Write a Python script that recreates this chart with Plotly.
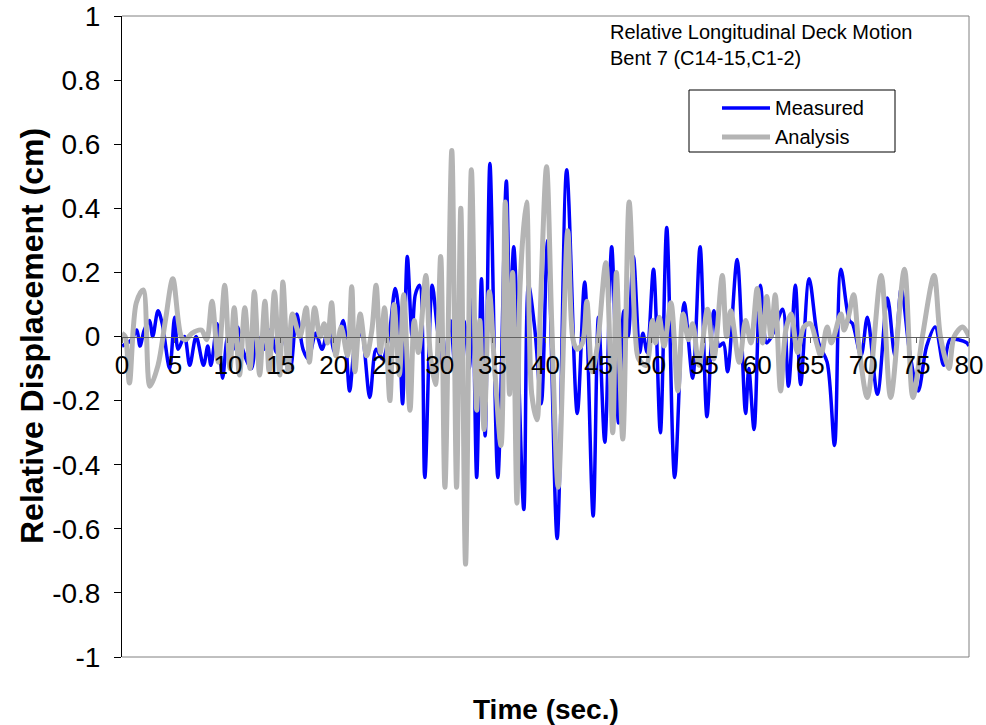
import plotly.graph_objects as go

# ---------------- data ----------------
t_measured = [0, 0.9, 1.4, 1.7, 2.1, 2.6, 2.9, 3.4, 3.8, 4.5, 4.97, 5.3, 5.9, 6.4, 7.0, 7.7, 8.1, 8.4,
              9.0, 9.5, 10.0, 10.5, 10.9, 11.4, 12.2, 12.8, 13.4, 14.0, 14.6, 15.2, 15.9, 16.5, 17.1,
              17.6, 18.3, 18.9, 19.5, 20.1, 20.9, 21.5, 22.0, 22.6, 23.4, 24.0, 24.6, 25.2, 25.8, 26.1,
              26.5, 26.95, 27.4, 27.7, 28.1, 28.6, 29.3, 29.8, 30.4, 31.0, 31.6, 32.3, 32.8, 33.1, 33.5,
              33.95, 34.3, 34.75, 35.5, 36.3, 36.65, 37.0, 37.95, 38.4, 39.0, 39.6, 40.2, 41.1, 42.0,
              43.0, 43.7, 44.5, 45.0, 45.6, 46.25, 46.9, 47.4, 47.8, 48.3, 48.9, 49.2, 49.6, 50.2, 50.85,
              51.45, 52.2, 53.1, 53.9, 54.6, 55.25, 55.9, 56.4, 56.8, 57.2, 58.1, 58.9, 59.2, 59.7, 60.3,
              60.9, 61.5, 62.4, 62.95, 63.6, 64.1, 64.9, 65.8, 66.6, 67.3, 67.9, 68.7, 69.0, 69.8, 70.4,
              71.35, 72.3, 73.0, 73.6, 74.4, 75.2, 76.0, 76.8, 77.6, 78.2, 79.0, 79.8, 80]
v_measured = [-0.03, -0.01, 0.02, -0.03, 0.02, 0.05, 0.0, 0.08, 0.04, -0.10, 0.06, -0.04, 0.0, -0.09,
              0.0, -0.09, -0.03, -0.09, 0.04, -0.13, 0.0, -0.04, 0.03, -0.04, -0.10, 0.0, -0.04, 0.02,
              -0.05, 0.0, -0.10, 0.07, -0.04, -0.07, 0.01, -0.04, 0.03, -0.05, 0.05, -0.17, -0.03, 0.01,
              -0.19, -0.04, -0.07, 0.0, 0.15, 0.09, -0.21, 0.25, 0.0, 0.13, 0.16, -0.44, 0.16, 0.02,
              -0.10, 0.05, -0.15, 0.05, -0.10, 0.16, -0.44, 0.18, -0.31, 0.54, -0.44, 0.485, 0.05, 0.28,
              -0.54, 0.16, 0.02, -0.21, 0.30, -0.63, 0.52, -0.24, 0.17, -0.56, 0.06, -0.33, 0.28, -0.27,
              0.08, 0.0, 0.25, -0.05, 0.01, -0.05, 0.21, -0.30, 0.34, -0.44, 0.105, -0.13, 0.28, -0.25,
              0.08, -0.03, -0.02, -0.11, 0.24, -0.24, -0.10, -0.29, 0.16, -0.02, 0.01, 0.085, -0.155,
              0.16, -0.15, 0.18, -0.02, -0.08, -0.34, 0.21, 0.05, 0.04, -0.06, 0.06, -0.18, 0.12, -0.06,
              0.15, -0.05, -0.17, -0.03, 0.03, -0.09, -0.01, -0.01, -0.02, -0.03]

t_analysis = [0, 0.3, 0.7, 1.35, 2.0, 2.64, 3.4, 4.1, 4.8, 5.6, 6.0, 6.6, 7.5, 8.0, 8.5, 9.1, 9.7, 10.2,
              10.6, 11.1, 11.6, 12.1, 12.5, 13.0, 13.5, 13.9, 14.4, 14.9, 15.2, 15.7, 16.1, 16.8, 17.4,
              17.7, 18.2, 18.7, 19.1, 19.4, 19.8, 20.2, 20.7, 21.3, 21.7, 22.0, 22.5, 23.1, 23.6, 24.0,
              24.4, 24.8, 25.3, 25.7, 26.2, 26.6, 27.2, 27.6, 28.0, 28.7, 29.1, 29.6, 30.1, 30.5, 31.15,
              31.6, 32.0, 32.45, 33.0, 33.5, 33.8, 34.2, 34.7, 35.2, 35.8, 36.2, 36.6, 36.9, 37.3, 37.6,
              38.2, 38.7, 39.2, 39.5, 40.1, 40.6, 41.2, 42.1, 42.6, 43.0, 43.5, 43.9, 44.4, 44.9, 45.7,
              46.35, 46.7, 47.3, 47.9, 48.5, 48.8, 49.5, 50.1, 50.4, 50.75, 51.2, 51.85, 52.5, 53.0, 53.5,
              53.9, 54.5, 55.3, 55.9, 56.7, 57.1, 57.5, 58.3, 58.9, 59.4, 60.0, 60.5, 60.9, 61.3, 61.7,
              62.2, 62.7, 63.2, 63.8, 64.4, 65.0, 65.6, 66.0, 66.6, 67.0, 67.9, 68.2, 68.6, 69.1, 69.6,
              70.4, 71.7, 72.6, 73.9, 74.7, 75.6, 76.7, 77.3, 78.1, 78.6, 79.4, 80]
v_analysis = [0.01, 0.0, -0.145, 0.105, 0.145, -0.155, -0.09, 0.05, 0.18, 0.0, -0.01, 0.01, 0.02, -0.01,
              0.11, -0.08, 0.16, -0.10, 0.09, -0.12, 0.09, -0.10, 0.14, -0.12, 0.11, -0.11, 0.14, -0.12,
              0.17, -0.11, 0.07, 0.0, 0.09, -0.08, 0.09, 0.0, 0.04, -0.02, 0.105, -0.06, 0.03, -0.06,
              0.155, -0.11, 0.07, -0.06, 0.02, 0.16, -0.05, 0.09, -0.20, 0.10, -0.12, 0.13, -0.23, 0.05,
              -0.05, 0.19, -0.05, -0.15, 0.25, -0.47, 0.58, -0.47, 0.40, -0.71, 0.52, -0.23, 0.05, -0.29,
              0.14, -0.10, -0.34, 0.42, -0.18, 0.20, -0.52, 0.16, 0.42, -0.18, -0.26, 0.07, 0.53, 0.03,
              -0.47, 0.33, -0.01, -0.04, -0.02, 0.11, -0.11, -0.03, 0.23, -0.30, 0.20, -0.32, 0.42, 0.0,
              -0.07, -0.09, 0.05, -0.02, 0.06, -0.03, 0.105, -0.17, 0.07, -0.01, 0.04, -0.09, 0.085,
              -0.07, 0.19, 0.0, 0.08, -0.08, 0.05, -0.02, 0.15, -0.02, 0.125, 0.0, 0.13, -0.17, 0.02,
              0.07, -0.05, 0.03, 0.04, -0.02, -0.06, 0.03, -0.02, 0.07, 0.02, 0.06, 0.13, -0.03, -0.19,
              0.19, -0.19, 0.21, -0.19, 0.0, 0.19, 0.0, -0.10, 0.0, 0.03, 0.0]

x_ticks = list(range(0, 81, 5))
y_ticks = [1, 0.8, 0.6, 0.4, 0.2, 0, -0.2, -0.4, -0.6, -0.8, -1]
y_tick_text = ["1", "0.8", "0.6", "0.4", "0.2", "0", "-0.2", "-0.4", "-0.6", "-0.8", "-1"]

# ---------------- layout geometry (pixels) ----------------
W, H = 986, 725
L, R, T, B = 122, 17, 16, 68
PW, PH = W - L - R, H - T - B


def px(x):
    return (x - L) / PW


def py(y):
    return 1 - (y - T) / PH


FONT = "Arial, 'Liberation Sans', sans-serif"
BLUE_W, GRAY_W = 3.5, 5

fig = go.Figure()
fig.add_trace(go.Scatter(x=t_measured, y=v_measured, mode="lines", name="Measured",
                         line=dict(color="#0000FF", width=BLUE_W, shape="spline", smoothing=0.9),
                         showlegend=False))
fig.add_trace(go.Scatter(x=t_analysis, y=v_analysis, mode="lines", name="Analysis",
                         line=dict(color="#B4B4B4", width=GRAY_W, shape="spline", smoothing=0.9),
                         showlegend=False))

shapes = [
    # plot frame (top, right, bottom) in gray
    dict(type="line", xref="paper", yref="paper", x0=0, x1=1, y0=1, y1=1,
         line=dict(color="#808080", width=1)),
    dict(type="line", xref="paper", yref="paper", x0=1, x1=1, y0=0, y1=1,
         line=dict(color="#808080", width=1)),
    dict(type="line", xref="paper", yref="paper", x0=0, x1=1, y0=0, y1=0,
         line=dict(color="#808080", width=1)),
    # legend box
    dict(type="rect", xref="paper", yref="paper", x0=px(689), x1=px(895), y0=py(152), y1=py(90),
         line=dict(color="black", width=1), fillcolor="white"),
    dict(type="line", xref="paper", yref="paper", x0=px(722), x1=px(770), y0=py(108), y1=py(108),
         line=dict(color="#0000FF", width=BLUE_W)),
    dict(type="line", xref="paper", yref="paper", x0=px(722), x1=px(770), y0=py(137), y1=py(137),
         line=dict(color="#B4B4B4", width=GRAY_W)),
]

annotations = [
    dict(text="Relative Longitudinal Deck Motion<br>Bent 7 (C14-15,C1-2)", xref="paper", yref="paper",
         x=px(608), y=py(45), xanchor="left", yanchor="middle", align="left", showarrow=False,
         font=dict(family=FONT, size=20, color="black")),
    dict(text="Measured", xref="paper", yref="paper", x=px(773), y=py(108), xanchor="left",
         yanchor="middle", showarrow=False, font=dict(family=FONT, size=20, color="black")),
    dict(text="Analysis", xref="paper", yref="paper", x=px(773), y=py(137), xanchor="left",
         yanchor="middle", showarrow=False, font=dict(family=FONT, size=20, color="black")),
    dict(text="<b>Time (sec.)</b>", xref="paper", yref="paper", x=px(546), y=py(709),
         xanchor="center", yanchor="middle", showarrow=False,
         font=dict(family=FONT, size=28, color="black")),
    dict(text="<b>Relative Displacement (cm)</b>", xref="paper", yref="paper", x=px(32), y=py(336),
         xanchor="center", yanchor="middle", textangle=-90, showarrow=False,
         font=dict(family=FONT, size=32, color="black")),
]

fig.update_layout(
    width=W, height=H,
    margin=dict(l=L, r=R, t=T, b=B, pad=0),
    paper_bgcolor="white", plot_bgcolor="white",
    font=dict(family=FONT, color="black"),
    shapes=shapes, annotations=annotations,
    xaxis=dict(range=[0, 80], tickvals=x_ticks, ticktext=[str(v) for v in x_ticks],
               showgrid=False, zeroline=False, showline=True, linecolor="#606060", linewidth=1,
               ticks="outside", ticklen=5, tickcolor="#606060", anchor="free", position=0.5,
               automargin=False,
               tickfont=dict(size=26, family=FONT, color="black")),
    yaxis=dict(range=[-1, 1], tickvals=y_ticks, ticktext=y_tick_text,
               showgrid=False, zeroline=False, showline=True, linecolor="black", linewidth=1,
               ticks="outside", ticklen=7, tickcolor="black", ticklabelstandoff=8,
               automargin=False,
               tickfont=dict(size=28, family=FONT, color="black")),
)

fig.write_html("out.html")
